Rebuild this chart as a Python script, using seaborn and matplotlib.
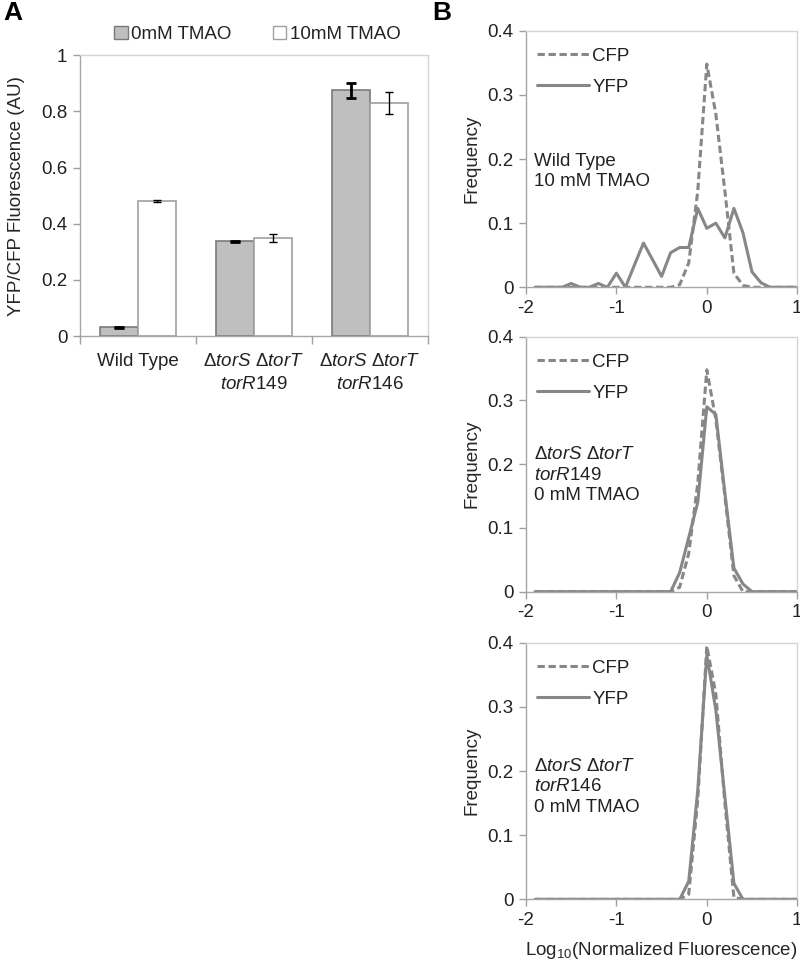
import numpy as np
import pandas as pd
import matplotlib
matplotlib.use("Agg")
import matplotlib.pyplot as plt
import seaborn as sns
from matplotlib.patches import Patch
from matplotlib.lines import Line2D

# ---- panel A data ----
strains = ["WT", "torR149", "torR146"]
strain_labels = [
    "Wild Type",
    "Δ$\\mathit{torS}$ Δ$\\mathit{torT}$\n$\\mathit{torR}$149",
    "Δ$\\mathit{torS}$ Δ$\\mathit{torT}$\n$\\mathit{torR}$146",
]
conditions = ["0mM TMAO", "10mM TMAO"]
ratio_0mM = [0.031, 0.337, 0.874]
ratio_10mM = [0.481, 0.350, 0.830]
err_0mM = [0.003, 0.002, 0.026]
err_10mM = [0.005, 0.014, 0.038]

# ---- panel B data ----
log_bins = [-1.9, -1.8, -1.7, -1.6, -1.5, -1.4, -1.3, -1.2, -1.1, -1.0,
            -0.9, -0.8, -0.7, -0.6, -0.5, -0.4, -0.3, -0.2, -0.1, 0.0,
            0.1, 0.2, 0.3, 0.4, 0.5, 0.6, 0.7, 0.8, 0.9, 1.0]

wt_yfp = [0, 0, 0, 0, 0.006, 0, 0, 0.006, 0, 0.022,
          0, 0.035, 0.069, 0.043, 0.017, 0.054, 0.062, 0.062, 0.123, 0.092,
          0.100, 0.077, 0.123, 0.085, 0.024, 0.007, 0, 0, 0, 0]
wt_cfp = [0, 0, 0, 0, 0, 0, 0, 0, 0, 0,
          0, 0, 0, 0, 0, 0, 0.004, 0.038, 0.150, 0.348,
          0.270, 0.150, 0.022, 0.003, 0, 0, 0, 0, 0, 0]

r149_yfp = [0, 0, 0, 0, 0, 0, 0, 0, 0, 0,
            0, 0, 0, 0, 0, 0, 0.030, 0.085, 0.140, 0.290,
            0.278, 0.155, 0.037, 0.012, 0, 0, 0, 0, 0, 0]
r149_cfp = [0, 0, 0, 0, 0, 0, 0, 0, 0, 0,
            0, 0, 0, 0, 0, 0, 0.007, 0.060, 0.170, 0.348,
            0.270, 0.150, 0.025, 0, 0, 0, 0, 0, 0, 0]

r146_yfp = [0, 0, 0, 0, 0, 0, 0, 0, 0, 0,
            0, 0, 0, 0, 0, 0, 0, 0.028, 0.170, 0.381,
            0.295, 0.160, 0.025, 0, 0, 0, 0, 0, 0, 0]
r146_cfp = [0, 0, 0, 0, 0, 0, 0, 0, 0, 0,
            0, 0, 0, 0, 0, 0, 0, 0.008, 0.155, 0.395,
            0.320, 0.150, 0.003, 0, 0, 0, 0, 0, 0, 0]

panel_labels = [
    "Wild Type\n10 mM TMAO",
    "Δ$\\mathit{torS}$ Δ$\\mathit{torT}$\n$\\mathit{torR}$149\n0 mM TMAO",
    "Δ$\\mathit{torS}$ Δ$\\mathit{torT}$\n$\\mathit{torR}$146\n0 mM TMAO",
]

sns.set_theme(style="white")
plt.rcParams["font.family"] = ["Liberation Sans", "DejaVu Sans"]
plt.rcParams["mathtext.fontset"] = "custom"
plt.rcParams["mathtext.rm"] = "Liberation Sans"
plt.rcParams["mathtext.it"] = "Liberation Sans:italic"
plt.rcParams["text.color"] = "#222222"
plt.rcParams["xtick.color"] = "#a0a0a0"
plt.rcParams["ytick.color"] = "#a0a0a0"
plt.rcParams["xtick.labelcolor"] = "#222222"
plt.rcParams["ytick.labelcolor"] = "#222222"

FS = 13.5
line_gray = "#878787"
axis_gray = "#a6a6a6"
frame_gray = "#d4d4d4"

fig = plt.figure(figsize=(8, 9.66), dpi=100)


def style_frame(ax):
    for side in ["left", "bottom"]:
        ax.spines[side].set_color(axis_gray)
        ax.spines[side].set_linewidth(1.0)
    for side in ["top", "right"]:
        ax.spines[side].set_color(frame_gray)
        ax.spines[side].set_linewidth(1.0)


# ---------------- panel A ----------------
axA = fig.add_axes([0.100, 0.652, 0.435, 0.291])
dfA = pd.DataFrame({
    "strain": strains * 2,
    "condition": [conditions[0]] * 3 + [conditions[1]] * 3,
    "ratio": ratio_0mM + ratio_10mM,
})
sns.barplot(data=dfA, x="strain", y="ratio", hue="condition", order=strains,
            hue_order=conditions, palette={conditions[0]: "#bfbfbf", conditions[1]: "white"},
            errorbar=None, width=0.66, gap=0, ax=axA, legend=False)

edge_cols = ["#7a7a7a", "#a0a0a0"]
errs = [err_0mM, err_10mM]
err_lw = [2.0, 1.0]
caps = [3.5, 3.0]
bar_conts = list(axA.containers)
for i, cont in enumerate(bar_conts):
    xs, hs = [], []
    for bar in cont:
        bar.set_edgecolor(edge_cols[i])
        bar.set_linewidth(1.2)
        xs.append(bar.get_x() + bar.get_width() / 2)
        hs.append(bar.get_height())
    axA.errorbar(xs, hs, yerr=errs[i], fmt="none", ecolor="black",
                 elinewidth=err_lw[i], capsize=caps[i], capthick=err_lw[i], zorder=5)

axA.set_xlim(-0.5, 2.5)
axA.set_ylim(0, 1)
axA.set_yticks([0, 0.2, 0.4, 0.6, 0.8, 1.0])
axA.set_yticklabels(["0", "0.2", "0.4", "0.6", "0.8", "1"])
axA.set_xticks([0, 1, 2])
axA.set_xticklabels(strain_labels, linespacing=1.45)
axA.set_xticks([-0.5, 0.5, 1.5, 2.5], minor=True)
axA.tick_params(axis="x", which="major", length=0, pad=12, labelsize=FS)
axA.tick_params(axis="x", which="minor", length=6, width=1, direction="out", bottom=True)
axA.tick_params(axis="y", length=5, width=1, direction="out", left=True, pad=4, labelsize=FS)
axA.set_xlabel("")
axA.set_ylabel("YFP/CFP Fluorescence (AU)", fontsize=FS, labelpad=12)
style_frame(axA)

legA = [Patch(facecolor="#bfbfbf", edgecolor="#7a7a7a", label=conditions[0]),
        Patch(facecolor="white", edgecolor="#a0a0a0", label=conditions[1])]
axA.legend(handles=legA, loc="lower center", bbox_to_anchor=(0.51, 1.0), ncol=2,
           frameon=False, fontsize=FS, handlelength=0.7, handleheight=0.7,
           handletextpad=0.2, columnspacing=2.2, borderaxespad=0.25)

# ---------------- panel B ----------------
posB = [[0.6575, 0.7026, 0.339, 0.2656],
        [0.6575, 0.3875, 0.339, 0.2640],
        [0.6575, 0.0690, 0.339, 0.2656]]
series = [(wt_cfp, wt_yfp), (r149_cfp, r149_yfp), (r146_cfp, r146_yfp)]
label_y = [0.21, 0.229, 0.221]

for k in range(3):
    ax = fig.add_axes(posB[k])
    cfp, yfp = series[k]
    n = len(log_bins)
    d = pd.DataFrame({
        "log_fl": log_bins * 2,
        "freq": cfp + yfp,
        "channel": ["CFP"] * n + ["YFP"] * n,
    })
    sns.lineplot(data=d, x="log_fl", y="freq", style="channel",
                 dashes={"CFP": (2.4, 1.2), "YFP": ""}, color=line_gray,
                 linewidth=2.2, ax=ax, legend=False)
    ax.set_xlim(-2, 1)
    ax.set_ylim(0, 0.4)
    ax.set_xticks([-2, -1, 0, 1])
    ax.set_xticklabels(["-2", "-1", "0", "1"])
    ax.set_yticks([0, 0.1, 0.2, 0.3, 0.4])
    ax.set_yticklabels(["0", "0.1", "0.2", "0.3", "0.4"])
    ax.tick_params(axis="both", length=5, width=1, direction="out",
                   bottom=True, left=True, pad=4, labelsize=FS)
    ax.set_ylabel("Frequency", fontsize=FS, labelpad=5)
    ax.set_xlabel("")
    style_frame(ax)

    h = [Line2D([], [], color=line_gray, lw=2.2, dashes=(2.4, 1.2), label="CFP"),
         Line2D([], [], color=line_gray, lw=2.2, label="YFP")]
    ax.legend(handles=h, loc="upper left", bbox_to_anchor=(-0.022, 1.0), frameon=False,
              fontsize=FS, handlelength=2.8, handletextpad=0.15, labelspacing=0.75,
              borderaxespad=0.5, borderpad=0.4)
    ax.text(-1.91, label_y[k], panel_labels[k], fontsize=FS, va="top", ha="left",
            linespacing=1.3)
    if k == 2:
        ax.set_xlabel("Log$_{10}$(Normalized Fluorescence)", fontsize=FS, labelpad=8)

fig.text(0.004, 0.999, "A", fontsize=19, fontweight="bold", va="top", ha="left", color="black")
fig.text(0.54, 0.999, "B", fontsize=19, fontweight="bold", va="top", ha="left", color="black")

fig.savefig("out.png", dpi=100)
